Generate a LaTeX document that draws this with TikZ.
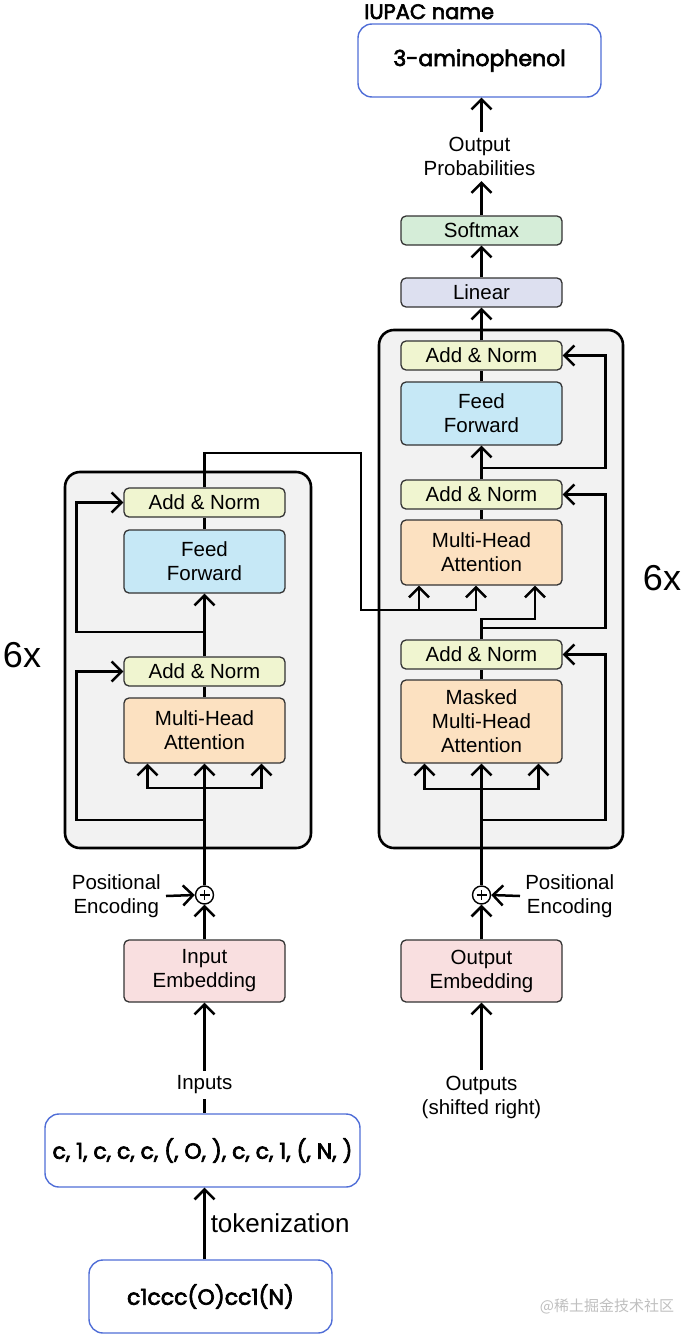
\documentclass[tikz,border=0pt]{standalone}
\usepackage{fontspec}
\setmainfont{Liberation Sans}
\newfontfamily\chemfont[FakeBold=3]{Poppins}
\newfontfamily\cjkfont{Noto Sans CJK SC}
\usepackage{tikz}
\usetikzlibrary{arrows.meta}

\definecolor{normfill}{RGB}{240,245,208}
\definecolor{ffwdfill}{RGB}{198,232,246}
\definecolor{attnfill}{RGB}{252,225,193}
\definecolor{embfill}{RGB}{249,223,224}
\definecolor{softfill}{RGB}{213,237,216}
\definecolor{linfill}{RGB}{221,224,240}
\definecolor{layerfill}{RGB}{242,242,242}
\definecolor{edgeblue}{RGB}{80,110,215}

\begin{document}
\begin{tikzpicture}[x=1pt, y=-1pt, line width=2.5pt, >={Straight Barb[length=10pt,width=20pt]}]
    \tikzstyle{block} = [draw=black!80, line width=1.3pt, rounded corners=5pt, minimum width=161pt, align=center, inner sep=0pt, font=\fontsize{20.5}{24}\selectfont]
    \tikzstyle{norm} = [block, fill=normfill, minimum height=29pt]
    \tikzstyle{ffwd} = [block, fill=ffwdfill, minimum height=63pt]
    \tikzstyle{attn} = [block, fill=attnfill, minimum height=65pt]
    \tikzstyle{emb} = [block, fill=embfill, minimum height=62pt]
    \tikzstyle{layer} = [draw=black, line width=2.6pt, rounded corners=15pt, fill=layerfill]
    \tikzstyle{chem} = [draw=edgeblue, line width=1.4pt, rounded corners=14pt, fill=white, minimum height=73pt, inner sep=0pt, font=\chemfont\fontsize{22}{24}\selectfont]
    \tikzstyle{label} = [align=center, inner sep=4pt, font=\fontsize{20.5}{24}\selectfont]
    \tikzstyle{plus} = [circle, draw, fill=white, line width=1.4pt, minimum size=18pt, inner sep=0pt,
        path picture={\draw[line width=1.4pt] (path picture bounding box.center) +(-5,0) -- +(5,0) +(0,-5) -- +(0,5);}]
    \useasboundingbox (0,0) rectangle (685,1338);

    % the two stacks
    \draw[layer] (65,472) rectangle (311,848);
    \draw[layer] (379,330) rectangle (623,848);

    % encoder
    \node[norm] (encAN2) at (204.5,502.5) {Add \& Norm};
    \node[ffwd] (encFF) at (204.5,561.5) {Feed\\Forward};
    \node[norm] (encAN1) at (204.5,671.5) {Add \& Norm};
    \node[attn] (encMHA) at (204.5,730.5) {Multi-Head\\Attention};
    \node[plus] (encAdd) at (204.5,895) {};
    \node[emb] (inEmb) at (204.5,971) {Input\\Embedding};
    \node[label, anchor=east] (encPos) at (166,896) {Positional\\Encoding};
    \node[font=\fontsize{36}{36}\selectfont] (encN) at (22,655) {6x};

    % decoder
    \node[norm] (decAN3) at (481.5,355.5) {Add \& Norm};
    \node[ffwd] (decFF) at (481.5,413.5) {Feed\\Forward};
    \node[norm] (decAN2) at (481.5,494.5) {Add \& Norm};
    \node[attn] (decMHA) at (481.5,552.5) {Multi-Head\\Attention};
    \node[norm] (decAN1) at (481.5,654.5) {Add \& Norm};
    \node[attn, minimum height=83pt] (decMMHA) at (481.5,721.5) {Masked\\Multi-Head\\Attention};
    \node[plus] (decAdd) at (481.5,895) {};
    \node[emb] (outEmb) at (481.5,971) {Output\\Embedding};
    \node[label, anchor=west] (decPos) at (520,896) {Positional\\Encoding};
    \node[font=\fontsize{36}{36}\selectfont] (decN) at (662,578) {6x};

    % head
    \node[block, fill=linfill, minimum height=29pt] (linear) at (481.5,292.5) {Linear};
    \node[block, fill=softfill, minimum height=29pt] (softmax) at (481.5,230.5) {Softmax};
    \node[label] (probs) at (479.5,156.5) {Output\\Probabilities};
    \node[chem, minimum width=243pt] (iupac) at (479.5,60.5) {3-aminophenol};
    \node[anchor=base west, inner sep=0pt, font=\chemfont\fontsize{21}{22}\selectfont] (iupacName) at (363,19) {IUPAC name};

    % inputs
    \node[label] (inputs) at (204.5,1085) {Inputs};
    \node[chem, minimum width=315pt] (tokens) at (202.5,1150.5) {c, 1, c, c, c, (, O, ), c, c, 1, (, N, )};
    \node[chem, minimum width=243pt] (smiles) at (210.5,1296.5) {c1ccc(O)cc1(N)};
    \node[label] (outputs) at (481.5,1097) {Outputs\\(shifted right)};
    \node[font=\cjkfont\fontsize{15}{15}\selectfont, text=black!25] (mark) at (607,1306) {@稀土掘金技术社区};

    % encoder flow
    \draw[->] (smiles.north -| inEmb) -- node[right, inner sep=5pt, font=\fontsize{26}{28}\selectfont] {tokenization} (tokens.south -| inEmb);
    \draw (inputs.south) -- (tokens.north -| inputs);
    \draw[->] (inputs.north) -- (inEmb.south);
    \draw[->] (inEmb.north) -- (encAdd.south);
    \draw[->] (encPos.east) -- (encAdd.west);
    \draw[->] (encAdd.north) -- (encMHA.south);
    \coordinate (encSplit) at (204.5,788);
    \foreach \dx in {-57,57} {
        \draw[->] (encSplit) -| ([xshift=\dx]encMHA.south);
    }
    \draw[->] (204.5,820) -| ([xshift=-47]encAN1.west) -- (encAN1.west);
    \draw (encMHA.north) -- (encAN1.south);
    \draw[->] (encAN1.north) -- (encFF.south);
    \draw[->] (204.5,632) -| ([xshift=-47]encAN2.west) -- (encAN2.west);
    \draw (encFF.north) -- (encAN2.south);
    \draw (encAN2.north) |- (361,453) -- (361,610) -- (476,610);
    \foreach \dx in {-62.5,-5.5} {
        \draw[<-] ([xshift=\dx]decMHA.south) -- ++(0,25.5);
    }

    % decoder flow
    \draw[->] (outputs.north) -- (outEmb.south);
    \draw[->] (outEmb.north) -- (decAdd.south);
    \draw[->] (decPos.west) -- (decAdd.east);
    \draw[->] (decAdd.north) -- (decMMHA.south);
    \coordinate (decSplit) at (481.5,789);
    \foreach \dx in {-57,57} {
        \draw[->] (decSplit) -| ([xshift=\dx]decMMHA.south);
    }
    \draw[->] (481.5,820) -| ([xshift=43]decAN1.east) -- (decAN1.east);
    \draw (decMMHA.north) -- (decAN1.south);
    \draw[->] (decAN1.north) |- (535,619) -- ([xshift=53.5]decMHA.south);
    \draw[->] (481.5,628) -| ([xshift=43]decAN2.east) -- (decAN2.east);
    \draw (decMHA.north) -- (decAN2.south);
    \draw[->] (decAN2.north) -- (decFF.south);
    \draw[->] (481.5,468) -| ([xshift=43]decAN3.east) -- (decAN3.east);
    \draw (decFF.north) -- (decAN3.south);
    \draw[->] (decAN3.north) -- (linear.south);
    \draw[->] (linear.north) -- (softmax.south);
    \draw[->] (softmax.north) -- (probs.south -| softmax);
    \draw[->] (probs.north -| softmax) -- (iupac.south -| softmax);
\end{tikzpicture}
\end{document}
